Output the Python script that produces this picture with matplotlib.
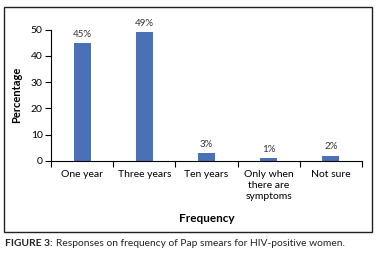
import matplotlib
matplotlib.use("Agg")
import matplotlib.pyplot as plt
from matplotlib.patches import Rectangle
import numpy as np

# Responses on frequency of Pap smears
categories = ["One year", "Three years", "Ten years", "Only when\nthere are\nsymptoms", "Not sure"]
percentages = [45, 49, 3, 1, 2]
labels = ["45%", "49%", "3%", "1%", "2%"]
yticks = [0, 10, 20, 30, 40, 50]

plt.rcParams["font.family"] = ["Lato", "DejaVu Sans"]

fig = plt.figure(figsize=(3.79, 2.56), dpi=100)
ax = fig.add_axes([0.1346, 0.372, 0.8204, 0.512])

x = np.arange(len(categories))
bars = ax.bar(x, percentages, width=0.27, color="#4A70B8")

for b, lab in zip(bars, labels):
    ax.annotate(lab, (b.get_x() + b.get_width() / 2, b.get_height()),
                xytext=(0, 3), textcoords="offset points",
                ha="center", va="bottom", fontsize=7, color="#333333")

ax.set_xlim(-0.5, len(categories) - 0.5)
ax.set_ylim(0, 50)
ax.set_yticks(yticks)
ax.set_xticks(x)
ax.set_xticklabels(categories, fontsize=7.5, linespacing=1.25)
ax.set_xticks(np.arange(-0.5, len(categories)), minor=True)
ax.tick_params(axis="x", which="major", length=0, pad=7)
ax.tick_params(axis="x", which="minor", length=4, width=0.8, direction="out")
ax.tick_params(axis="y", length=4, width=0.8, labelsize=7.5, pad=2)

for s in ["top", "right"]:
    ax.spines[s].set_visible(False)
for s in ["left", "bottom"]:
    ax.spines[s].set_linewidth(0.8)

ax.set_ylabel("Percentage", fontsize=8, fontweight="bold", labelpad=6)
ax.set_xlabel("Frequency", fontsize=8.5, fontweight="bold", labelpad=9)

# outer frame
fig.patches.append(Rectangle((0.0106, 0.094), 0.9709, 0.879, transform=fig.transFigure,
                             fill=False, edgecolor="#222222", linewidth=1.0))

# caption: bold figure number, then plain text right after it
t1 = fig.text(0.012, 0.047, "FIGURE 3:", fontsize=7.4, fontweight="bold",
              va="center", color="#222222")
ax.annotate("Responses on frequency of Pap smears for HIV-positive women.",
            xy=(1, 0.5), xycoords=t1, xytext=(3, 0), textcoords="offset points",
            fontsize=7.4, va="center", ha="left", color="#222222",
            annotation_clip=False)

fig.savefig("out.png", dpi=100)
